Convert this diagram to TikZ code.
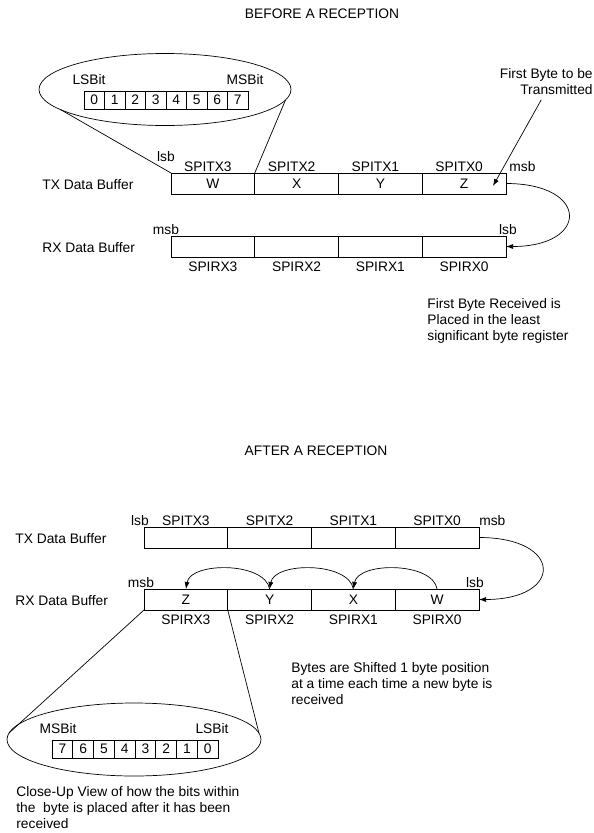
\documentclass[tikz,border=0pt]{standalone}
\usepackage{fontspec}
\setmainfont{Liberation Sans}
\usetikzlibrary{shapes,arrows,positioning,calc,arrows.meta}

\tikzset{
    byte/.style={draw, minimum width=83.75pt, minimum height=21pt, inner sep=0pt, outer sep=0pt},
    bit/.style={draw, minimum width=20.6pt, minimum height=18pt, inner sep=0pt, outer sep=0pt},
    lens/.style={draw, ellipse, inner sep=0pt, outer sep=0pt, minimum width=252pt, minimum height=72pt},
    tag/.style={inner sep=0pt},
    tip/.style={-{Latex[length=7pt, width=5pt]}}
}

\begin{document}
\begin{tikzpicture}[x=1pt, y=-1pt, line width=0.7pt, font=\fontsize{13.8pt}{16pt}\selectfont]
    \useasboundingbox (0, 0) rectangle (594, 833);

    % Before a reception
    \node [tag, anchor=base] (before) at (322, 18) {BEFORE A RECEPTION};

    % TX data buffer (before)
    \node [tag, anchor=base west] (btxlabel) at (42, 189) {TX Data Buffer};
    \foreach \k/\v [count=\i from 0] in {3/W, 2/X, 1/Y, 0/Z} {
        \node [byte] (btx\k) at (212.875 + 83.75*\i, 183.5) {\v};
        \node [tag, anchor=south, xshift=-5pt, yshift=1pt] at (btx\k.north) {SPITX\k};
    }
    \node [tag, anchor=south] (btxlsb) at ([xshift=-5pt, yshift=11pt]btx3.north west) {lsb};
    \node [tag, anchor=south west] (btxmsb) at ([xshift=3pt, yshift=1pt]btx0.north east) {msb};

    % RX data buffer (before)
    \node [tag, anchor=base west] (brxlabel) at (42, 252) {RX Data Buffer};
    \foreach \k [count=\i from 0] in {3, 2, 1, 0} {
        \node [byte] (brx\k) at (212.875 + 83.75*\i, 246.5) {};
        \node [tag, anchor=north, yshift=-5pt] at (brx\k.south) {SPIRX\k};
    }
    \node [tag, anchor=south] (brxmsb) at ([xshift=-5pt, yshift=1pt]brx3.north west) {msb};
    \node [tag, anchor=south] (brxlsb) at ([xshift=2pt, yshift=1pt]brx0.north east) {lsb};

    % Close-up of one byte
    \node [lens] (blens) at (165, 89.5) {};
    \node [tag, anchor=base] (blsbit) at (89, 84) {LSBit};
    \node [tag, anchor=base] (bmsbit) at (245, 84) {MSBit};
    \foreach \b in {0,...,7}
        \node [bit] (bbit\b) at (94.25 + 20.5*\b, 100) {\b};
    \draw (blens.191) -- (btx3.north west);
    \draw (blens.355) -- (btx3.north east);

    % First byte out and in
    \node [tag, anchor=north east, align=right] (firstout) at (593, 68) {First Byte to be\\Transmitted};
    \coordinate (zin) at (493, 186);
    \draw [tip] ([xshift=-5pt, yshift=-5pt]firstout.south) -- (zin);
    \draw [tip] (btx0.east) to [out=0, in=0, looseness=3.4] (brx0.east);
    \node [tag, anchor=north west, align=left] (firstin) at (427, 298) {First Byte Received is\\Placed in the least\\significant byte register};

    % After a reception
    \node [tag, anchor=base] (after) at (316, 455) {AFTER A RECEPTION};

    % TX data buffer (after)
    \node [tag, anchor=base west] (atxlabel) at (15, 543) {TX Data Buffer};
    \foreach \k [count=\i from 0] in {3, 2, 1, 0} {
        \node [byte] (atx\k) at (185.875 + 83.75*\i, 537.5) {};
        \node [tag, anchor=south, yshift=1pt] at (atx\k.north) {SPITX\k};
    }
    \node [tag, anchor=south] (atxlsb) at ([xshift=-4pt, yshift=1pt]atx3.north west) {lsb};
    \node [tag, anchor=south west] (atxmsb) at ([yshift=1pt]atx0.north east) {msb};

    % RX data buffer (after)
    \node [tag, anchor=base west] (arxlabel) at (15, 605) {RX Data Buffer};
    \foreach \k/\v [count=\i from 0] in {3/Z, 2/Y, 1/X, 0/W} {
        \node [byte] (arx\k) at (185.875 + 83.75*\i, 599.5) {\v};
        \node [tag, anchor=north, yshift=-5pt] at (arx\k.south) {SPIRX\k};
    }
    \node [tag, anchor=south] (arxmsb) at ([xshift=-3pt, yshift=1pt]arx3.north west) {msb};
    \node [tag, anchor=south] (arxlsb) at ([xshift=-4pt, yshift=1pt]arx0.north east) {lsb};

    % Shifting
    \draw [tip] (atx0.east) to [out=0, in=0, looseness=3.5] (arx0.east);
    \draw [tip] (arx0.north) to [out=100, in=80, looseness=0.85] (arx1.north);
    \draw [tip] (arx1.north) to [out=100, in=80, looseness=0.85] (arx2.north);
    \draw [tip] (arx2.north) to [out=100, in=80, looseness=0.85] (arx3.north);
    \node [tag, anchor=north west, align=left] (shifted) at (291, 662) {Bytes are Shifted 1 byte position\\at a time each time a new byte is\\received};

    % Close-up of the received byte
    \node [lens, minimum width=254pt, minimum height=73pt] (alens) at (134, 739.5) {};
    \node [tag, anchor=base] (amsbit) at (58, 733) {MSBit};
    \node [tag, anchor=base] (alsbit) at (212, 733) {LSBit};
    \foreach \b in {0,...,7} {
        \pgfmathtruncatemacro{\n}{7 - \b}
        \node [bit] (abit\b) at (62.375 + 20.75*\b, 749) {\n};
    }
    \draw (alens.177) -- (arx3.south west);
    \draw (alens.3) -- (arx3.south east);
    \node [tag, anchor=north west, align=left] (closeup) at (16, 786) {Close-Up View of how the bits within\\the~ byte is placed after it has been\\received};
\end{tikzpicture}
\end{document}
